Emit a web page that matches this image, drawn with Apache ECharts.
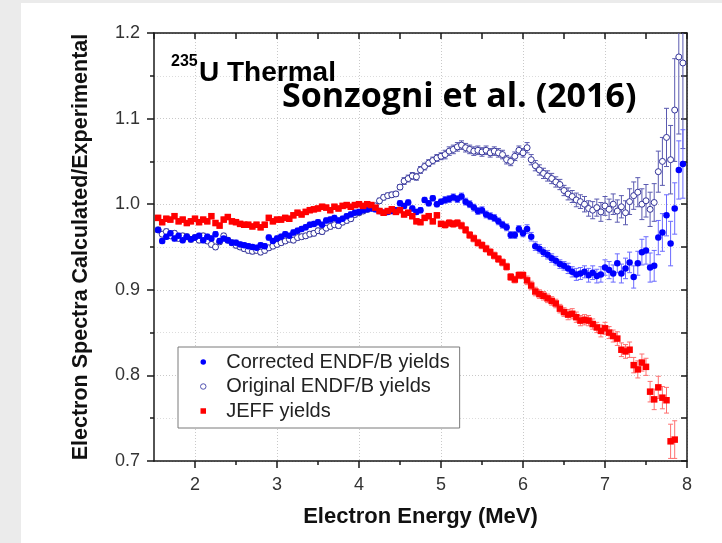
<!DOCTYPE html>
<html>
<head>
<meta charset="utf-8">
<title>235U Thermal - Sonzogni et al. (2016)</title>
<script src="https://cdn.jsdelivr.net/npm/echarts@6/dist/echarts.min.js"></script>
<style>
  html, body { margin: 0; padding: 0; background: #ebebeb; }
  #chart { position: absolute; left: 21px; top: 3px; width: 701px; height: 540px; background: #fff; }
</style>
</head>
<body>
<div id="chart"></div>
<script>
// electron energy bins (MeV)
var energy = [
  1.55, 1.60, 1.65, 1.70, 1.75, 1.80, 1.85, 1.90, 1.95, 2.00,
  2.05, 2.10, 2.15, 2.20, 2.25, 2.30, 2.35, 2.40, 2.45, 2.50,
  2.55, 2.60, 2.65, 2.70, 2.75, 2.80, 2.85, 2.90, 2.95, 3.00,
  3.05, 3.10, 3.15, 3.20, 3.25, 3.30, 3.35, 3.40, 3.45, 3.50,
  3.55, 3.60, 3.65, 3.70, 3.75, 3.80, 3.85, 3.90, 3.95, 4.00,
  4.05, 4.10, 4.15, 4.20, 4.25, 4.30, 4.35, 4.40, 4.45, 4.50,
  4.55, 4.60, 4.65, 4.70, 4.75, 4.80, 4.85, 4.90, 4.95, 5.00,
  5.05, 5.10, 5.15, 5.20, 5.25, 5.30, 5.35, 5.40, 5.45, 5.50,
  5.55, 5.60, 5.65, 5.70, 5.75, 5.80, 5.85, 5.90, 5.95, 6.00,
  6.05, 6.10, 6.15, 6.20, 6.25, 6.30, 6.35, 6.40, 6.45, 6.50,
  6.55, 6.60, 6.65, 6.70, 6.75, 6.80, 6.85, 6.90, 6.95, 7.00,
  7.05, 7.10, 7.15, 7.20, 7.25, 7.30, 7.35, 7.40, 7.45, 7.50,
  7.55, 7.60, 7.65, 7.70, 7.75, 7.80, 7.85, 7.90, 7.95
];

// Corrected ENDF/B yields
var corrected = [
  0.970, 0.957, 0.962, 0.966, 0.960, 0.963, 0.958, 0.962, 0.959, 0.961,
  0.963, 0.958, 0.962, 0.960, 0.965, 0.957, 0.960, 0.958, 0.955, 0.955,
  0.953, 0.952, 0.951, 0.950, 0.949, 0.952, 0.951, 0.961, 0.957, 0.960,
  0.962, 0.965, 0.963, 0.967, 0.969, 0.971, 0.973, 0.976, 0.977, 0.979,
  0.976, 0.981, 0.982, 0.984, 0.981, 0.983, 0.986, 0.988, 0.990, 0.991,
  0.993, 0.994, 0.995, 0.994, 0.992, 0.990, 0.991, 0.992, 0.993, 1.001,
  0.998, 1.002, 0.995, 0.991, 0.993, 1.005, 1.001, 1.007, 1.000, 1.003,
  1.005, 1.006, 1.008, 1.006, 1.009, 1.003, 1.000, 0.996, 0.992, 0.993,
  0.988, 0.986, 0.984, 0.980, 0.976, 0.973, 0.964, 0.964, 0.971, 0.966,
  0.971, 0.962, 0.951, 0.948, 0.944, 0.941, 0.937, 0.934, 0.930, 0.928,
  0.925, 0.921, 0.918, 0.919, 0.921, 0.917, 0.920, 0.916, 0.918, 0.926,
  0.923, 0.919, 0.931, 0.919, 0.925, 0.932, 0.915, 0.931, 0.944, 0.946,
  0.926, 0.928, 0.961, 0.967, 0.987, 0.954, 0.995, 1.040, 1.047
];
var correctedErr = [
  0.003, 0.003, 0.003, 0.003, 0.003, 0.003, 0.003, 0.003, 0.003, 0.003,
  0.003, 0.003, 0.003, 0.003, 0.003, 0.003, 0.003, 0.003, 0.003, 0.003,
  0.003, 0.003, 0.003, 0.003, 0.003, 0.003, 0.003, 0.003, 0.003, 0.003,
  0.003, 0.003, 0.003, 0.003, 0.003, 0.003, 0.003, 0.003, 0.003, 0.003,
  0.003, 0.003, 0.003, 0.003, 0.003, 0.003, 0.003, 0.003, 0.003, 0.003,
  0.003, 0.003, 0.003, 0.003, 0.003, 0.003, 0.003, 0.003, 0.003, 0.003,
  0.003, 0.003, 0.003, 0.003, 0.003, 0.003, 0.003, 0.003, 0.003, 0.003,
  0.004, 0.004, 0.004, 0.004, 0.004, 0.004, 0.004, 0.004, 0.004, 0.004,
  0.004, 0.004, 0.004, 0.004, 0.004, 0.004, 0.004, 0.004, 0.004, 0.004,
  0.005, 0.005, 0.005, 0.005, 0.005, 0.005, 0.005, 0.005, 0.005, 0.005,
  0.006, 0.006, 0.007, 0.007, 0.007, 0.008, 0.008, 0.008, 0.009, 0.009,
  0.010, 0.010, 0.011, 0.011, 0.012, 0.012, 0.013, 0.014, 0.015, 0.016,
  0.017, 0.018, 0.020, 0.022, 0.024, 0.026, 0.030, 0.034, 0.040
];

// Original ENDF/B yields
var original = [
  0.970, 0.965, 0.968, 0.963, 0.966, 0.960, 0.963, 0.962, 0.959, 0.961,
  0.958, 0.963, 0.957, 0.953, 0.950, 0.956, 0.963, 0.958, 0.955, 0.952,
  0.950, 0.948, 0.946, 0.945, 0.946, 0.944, 0.946, 0.949, 0.951, 0.953,
  0.955, 0.957, 0.959, 0.958, 0.961, 0.962, 0.963, 0.965, 0.966, 0.969,
  0.968, 0.972, 0.974, 0.976, 0.975, 0.979, 0.981, 0.983, 0.988, 0.990,
  0.992, 0.994, 0.996, 0.998, 1.004, 1.008, 1.010, 1.011, 1.012, 1.020,
  1.027, 1.030, 1.033, 1.032, 1.040, 1.044, 1.048, 1.051, 1.054, 1.056,
  1.058, 1.062, 1.064, 1.067, 1.069, 1.066, 1.064, 1.062, 1.063, 1.061,
  1.063, 1.060, 1.062, 1.060, 1.058, 1.052, 1.050, 1.056, 1.063, 1.060,
  1.066, 1.052, 1.045, 1.040, 1.036, 1.033, 1.030, 1.026, 1.023, 1.016,
  1.012, 1.009, 1.005, 1.003, 1.000, 0.995, 0.993, 0.996, 0.991, 0.998,
  0.994, 1.000, 0.992, 0.997, 0.990, 1.003, 1.010, 1.014, 1.000, 1.004,
  0.994, 1.002, 1.038, 1.050, 1.078, 1.052, 1.110, 1.172, 1.165
];
var originalErr = [
  0.003, 0.003, 0.003, 0.003, 0.003, 0.003, 0.003, 0.003, 0.003, 0.003,
  0.003, 0.003, 0.003, 0.003, 0.003, 0.003, 0.003, 0.003, 0.003, 0.003,
  0.003, 0.003, 0.003, 0.003, 0.003, 0.003, 0.003, 0.003, 0.003, 0.003,
  0.003, 0.003, 0.003, 0.003, 0.003, 0.003, 0.003, 0.003, 0.003, 0.003,
  0.003, 0.003, 0.003, 0.003, 0.003, 0.003, 0.003, 0.003, 0.003, 0.003,
  0.003, 0.003, 0.003, 0.003, 0.003, 0.003, 0.003, 0.003, 0.003, 0.003,
  0.004, 0.004, 0.004, 0.004, 0.004, 0.004, 0.004, 0.004, 0.004, 0.004,
  0.005, 0.005, 0.005, 0.005, 0.005, 0.005, 0.005, 0.005, 0.005, 0.005,
  0.005, 0.005, 0.005, 0.005, 0.005, 0.005, 0.005, 0.005, 0.005, 0.005,
  0.006, 0.006, 0.006, 0.006, 0.006, 0.006, 0.006, 0.006, 0.006, 0.006,
  0.007, 0.007, 0.008, 0.008, 0.009, 0.009, 0.010, 0.010, 0.011, 0.011,
  0.012, 0.012, 0.013, 0.013, 0.014, 0.015, 0.016, 0.017, 0.018, 0.019,
  0.020, 0.022, 0.024, 0.028, 0.034, 0.040, 0.060, 0.090, 0.100
];

// JEFF yields (no points above 7.85 MeV)
var jeff = [
  0.984, 0.979, 0.983, 0.982, 0.986, 0.980, 0.982, 0.978, 0.980, 0.983,
  0.979, 0.982, 0.980, 0.986, 0.978, 0.975, 0.982, 0.985, 0.980, 0.979,
  0.977, 0.976, 0.976, 0.974, 0.976, 0.973, 0.976, 0.984, 0.980, 0.982,
  0.982, 0.984, 0.983, 0.987, 0.990, 0.988, 0.991, 0.993, 0.994, 0.995,
  0.997, 0.996, 0.993, 0.997, 0.995, 0.998, 0.999, 0.997, 0.999, 1.000,
  0.998, 1.000, 0.999, 0.996, 0.992, 0.990, 0.992, 0.994, 0.991, 0.993,
  0.988, 0.990, 0.986, 0.980, 0.979, 0.984, 0.986, 0.980, 0.987, 0.977,
  0.976, 0.978, 0.977, 0.978, 0.975, 0.970, 0.964, 0.960, 0.955, 0.952,
  0.948, 0.944, 0.940, 0.936, 0.932, 0.927, 0.915, 0.912, 0.917, 0.917,
  0.911, 0.905, 0.898, 0.895, 0.893, 0.890, 0.887, 0.884, 0.878, 0.874,
  0.871, 0.872, 0.868, 0.864, 0.865, 0.864, 0.860, 0.856, 0.852, 0.855,
  0.850, 0.846, 0.843, 0.830, 0.828, 0.830, 0.812, 0.807, 0.815, 0.810,
  0.781, 0.772, 0.786, 0.774, 0.771, 0.723, 0.725, null, null
];
var jeffErr = [
  0.003, 0.003, 0.003, 0.003, 0.003, 0.003, 0.003, 0.003, 0.003, 0.003,
  0.003, 0.003, 0.003, 0.003, 0.003, 0.003, 0.003, 0.003, 0.003, 0.003,
  0.003, 0.003, 0.003, 0.003, 0.003, 0.003, 0.003, 0.003, 0.003, 0.003,
  0.003, 0.003, 0.003, 0.003, 0.003, 0.003, 0.003, 0.003, 0.003, 0.003,
  0.003, 0.003, 0.003, 0.003, 0.003, 0.003, 0.003, 0.003, 0.003, 0.003,
  0.003, 0.003, 0.003, 0.003, 0.003, 0.003, 0.003, 0.003, 0.003, 0.003,
  0.003, 0.003, 0.003, 0.003, 0.003, 0.003, 0.003, 0.003, 0.003, 0.003,
  0.004, 0.004, 0.004, 0.004, 0.004, 0.004, 0.004, 0.004, 0.004, 0.004,
  0.004, 0.004, 0.004, 0.004, 0.004, 0.004, 0.004, 0.004, 0.004, 0.004,
  0.005, 0.005, 0.005, 0.005, 0.005, 0.005, 0.005, 0.005, 0.005, 0.005,
  0.006, 0.006, 0.006, 0.006, 0.006, 0.006, 0.006, 0.006, 0.007, 0.007,
  0.007, 0.007, 0.008, 0.008, 0.008, 0.009, 0.009, 0.010, 0.010, 0.010,
  0.012, 0.012, 0.013, 0.013, 0.015, 0.020, 0.022, null, null
];

// axis ticks
var xMajorTicks = [2, 3, 4, 5, 6, 7, 8];
var xMinorTicks = [2.5, 3.5, 4.5, 5.5, 6.5, 7.5];

var FONT = '"Liberation Sans", Arial, sans-serif';
var AXIS_COLOR = '#1a1a1a';

function points(vals) {
  var out = [];
  for (var i = 0; i < energy.length; i++) {
    if (vals[i] != null) out.push([energy[i], vals[i]]);
  }
  return out;
}

function withErrors(vals, errs) {
  var out = [];
  for (var i = 0; i < energy.length; i++) {
    if (vals[i] != null) out.push([energy[i], vals[i], errs[i]]);
  }
  return out;
}

// vertical error bar with small caps
function errorBar(color) {
  return function (params, api) {
    var x = api.value(0), y = api.value(1), e = api.value(2);
    var hi = api.coord([x, y + e]);
    var lo = api.coord([x, y - e]);
    var cap = 2.5;
    return {
      type: 'group',
      children: [
        { type: 'line', shape: { x1: hi[0], y1: hi[1], x2: lo[0], y2: lo[1] }, style: { stroke: color, lineWidth: 1 } },
        { type: 'line', shape: { x1: hi[0] - cap, y1: hi[1], x2: hi[0] + cap, y2: hi[1] }, style: { stroke: color, lineWidth: 1 } },
        { type: 'line', shape: { x1: lo[0] - cap, y1: lo[1], x2: lo[0] + cap, y2: lo[1] }, style: { stroke: color, lineWidth: 1 } }
      ]
    };
  };
}

var chart = echarts.init(document.getElementById('chart'));

var gridLine = { show: true, lineStyle: { color: '#c9c9c9', type: [1, 2], width: 1 } };
var axisLine = { show: true, onZero: false, lineStyle: { color: AXIS_COLOR, width: 1.5 } };
var tickLine = { color: AXIS_COLOR, width: 1.5 };

var option = {
  animation: false,
  backgroundColor: '#fff',
  grid: { left: 133, right: 35, top: 30, bottom: 82, outerBoundsMode: 'none' },
  legend: {
    data: [
      { name: 'Corrected ENDF/B yields', icon: 'circle' },
      { name: 'Original ENDF/B yields', icon: 'circle', itemStyle: { color: '#fff', borderColor: '#5050b0', borderWidth: 1 } },
      { name: 'JEFF yields', icon: 'path://M0,0L10,0L10,10L0,10Z' }
    ],
    orient: 'vertical',
    left: 157,
    top: 344,
    padding: [5, 10, 7, 22],
    itemGap: 4.5,
    itemWidth: 36,
    itemHeight: 5.5,
    symbolKeepAspect: true,
    selectedMode: false,
    backgroundColor: '#fff',
    borderColor: '#7a7a7a',
    borderWidth: 1,
    borderRadius: 0,
    textStyle: { fontFamily: FONT, fontSize: 20, color: '#222' }
  },
  xAxis: [
    {
      type: 'value', min: 1.5, max: 8, interval: 0.5, position: 'bottom',
      name: 'Electron Energy (MeV)', nameLocation: 'middle', nameGap: 45,
      nameTextStyle: { fontFamily: FONT, fontSize: 22, fontWeight: 'bold', color: '#111' },
      axisLine: axisLine,
      axisTick: { show: true, inside: false, length: 7, customValues: xMajorTicks, lineStyle: tickLine },
      axisLabel: { customValues: xMajorTicks, margin: 15, fontFamily: FONT, fontSize: 18, color: '#333' },
      splitLine: gridLine
    },
    {
      type: 'value', min: 1.5, max: 8, interval: 0.5, position: 'bottom',
      axisLine: { show: false },
      axisTick: { show: true, inside: false, length: 4, customValues: xMinorTicks, lineStyle: tickLine },
      axisLabel: { show: false },
      splitLine: { show: false }
    },
    {
      type: 'value', min: 1.5, max: 8, interval: 0.5, position: 'top',
      axisLine: axisLine,
      axisTick: { show: true, inside: true, length: 6, lineStyle: tickLine },
      axisLabel: { show: false },
      splitLine: { show: false }
    }
  ],
  yAxis: [
    {
      type: 'value', min: 0.7, max: 1.2, interval: 0.1, position: 'left',
      name: 'Electron Spectra Calculated/Experimental', nameLocation: 'middle', nameGap: 62, nameRotate: 90,
      nameTextStyle: { fontFamily: FONT, fontSize: 21.5, fontWeight: 'bold', color: '#111' },
      axisLine: axisLine,
      axisTick: { show: true, inside: false, length: 7, lineStyle: tickLine },
      minorTick: { show: true, splitNumber: 2, length: 4, lineStyle: tickLine },
      axisLabel: {
        margin: 14, fontFamily: FONT, fontSize: 18, color: '#333',
        formatter: function (v) { return v.toFixed(1); }
      },
      splitLine: gridLine,
      minorSplitLine: { show: true, lineStyle: { color: '#dcdcdc', type: [1, 2], width: 1 } }
    },
    {
      type: 'value', min: 0.7, max: 1.2, interval: 0.05, position: 'right',
      axisLine: axisLine,
      axisTick: { show: true, inside: true, length: 6, lineStyle: tickLine },
      axisLabel: { show: false },
      splitLine: { show: false }
    }
  ],
  graphic: [
    { type: 'text', x: 150, y: 59, z: 10,
      style: { text: '235', font: 'bold 16px ' + FONT, fill: '#000', textVerticalAlign: 'middle' } },
    { type: 'text', x: 178, y: 70, z: 10,
      style: { text: 'U Thermal', font: 'bold 28px ' + FONT, fill: '#000', textVerticalAlign: 'middle' } },
    { type: 'text', x: 261, y: 94, z: 10,
      style: { text: 'Sonzogni et al. (2016)', font: 'bold 34px "Open Sans", "Noto Sans", sans-serif', fill: '#000', textVerticalAlign: 'middle' } }
  ],
  series: [
    { type: 'custom', renderItem: errorBar('#5a5ab0'), data: withErrors(original, originalErr), clip: true, z: 2, silent: true },
    { type: 'custom', renderItem: errorBar('#6b6bff'), data: withErrors(corrected, correctedErr), clip: true, z: 2, silent: true },
    { type: 'custom', renderItem: errorBar('#ff7070'), data: withErrors(jeff, jeffErr), clip: true, z: 2, silent: true },
    {
      name: 'Original ENDF/B yields', type: 'scatter', data: points(original), clip: true, z: 3,
      symbol: 'circle', symbolSize: 6,
      itemStyle: { color: '#fff', borderColor: '#34349a', borderWidth: 1, opacity: 1 }
    },
    {
      name: 'Corrected ENDF/B yields', type: 'scatter', data: points(corrected), clip: true, z: 4,
      symbol: 'circle', symbolSize: 6.5,
      itemStyle: { color: '#0000ff', opacity: 1 }
    },
    {
      name: 'JEFF yields', type: 'scatter', data: points(jeff), clip: true, z: 5,
      symbol: 'rect', symbolSize: 6.5,
      itemStyle: { color: '#ff0000', opacity: 1 }
    }
  ]
};

chart.setOption(option);
</script>
</body>
</html>
